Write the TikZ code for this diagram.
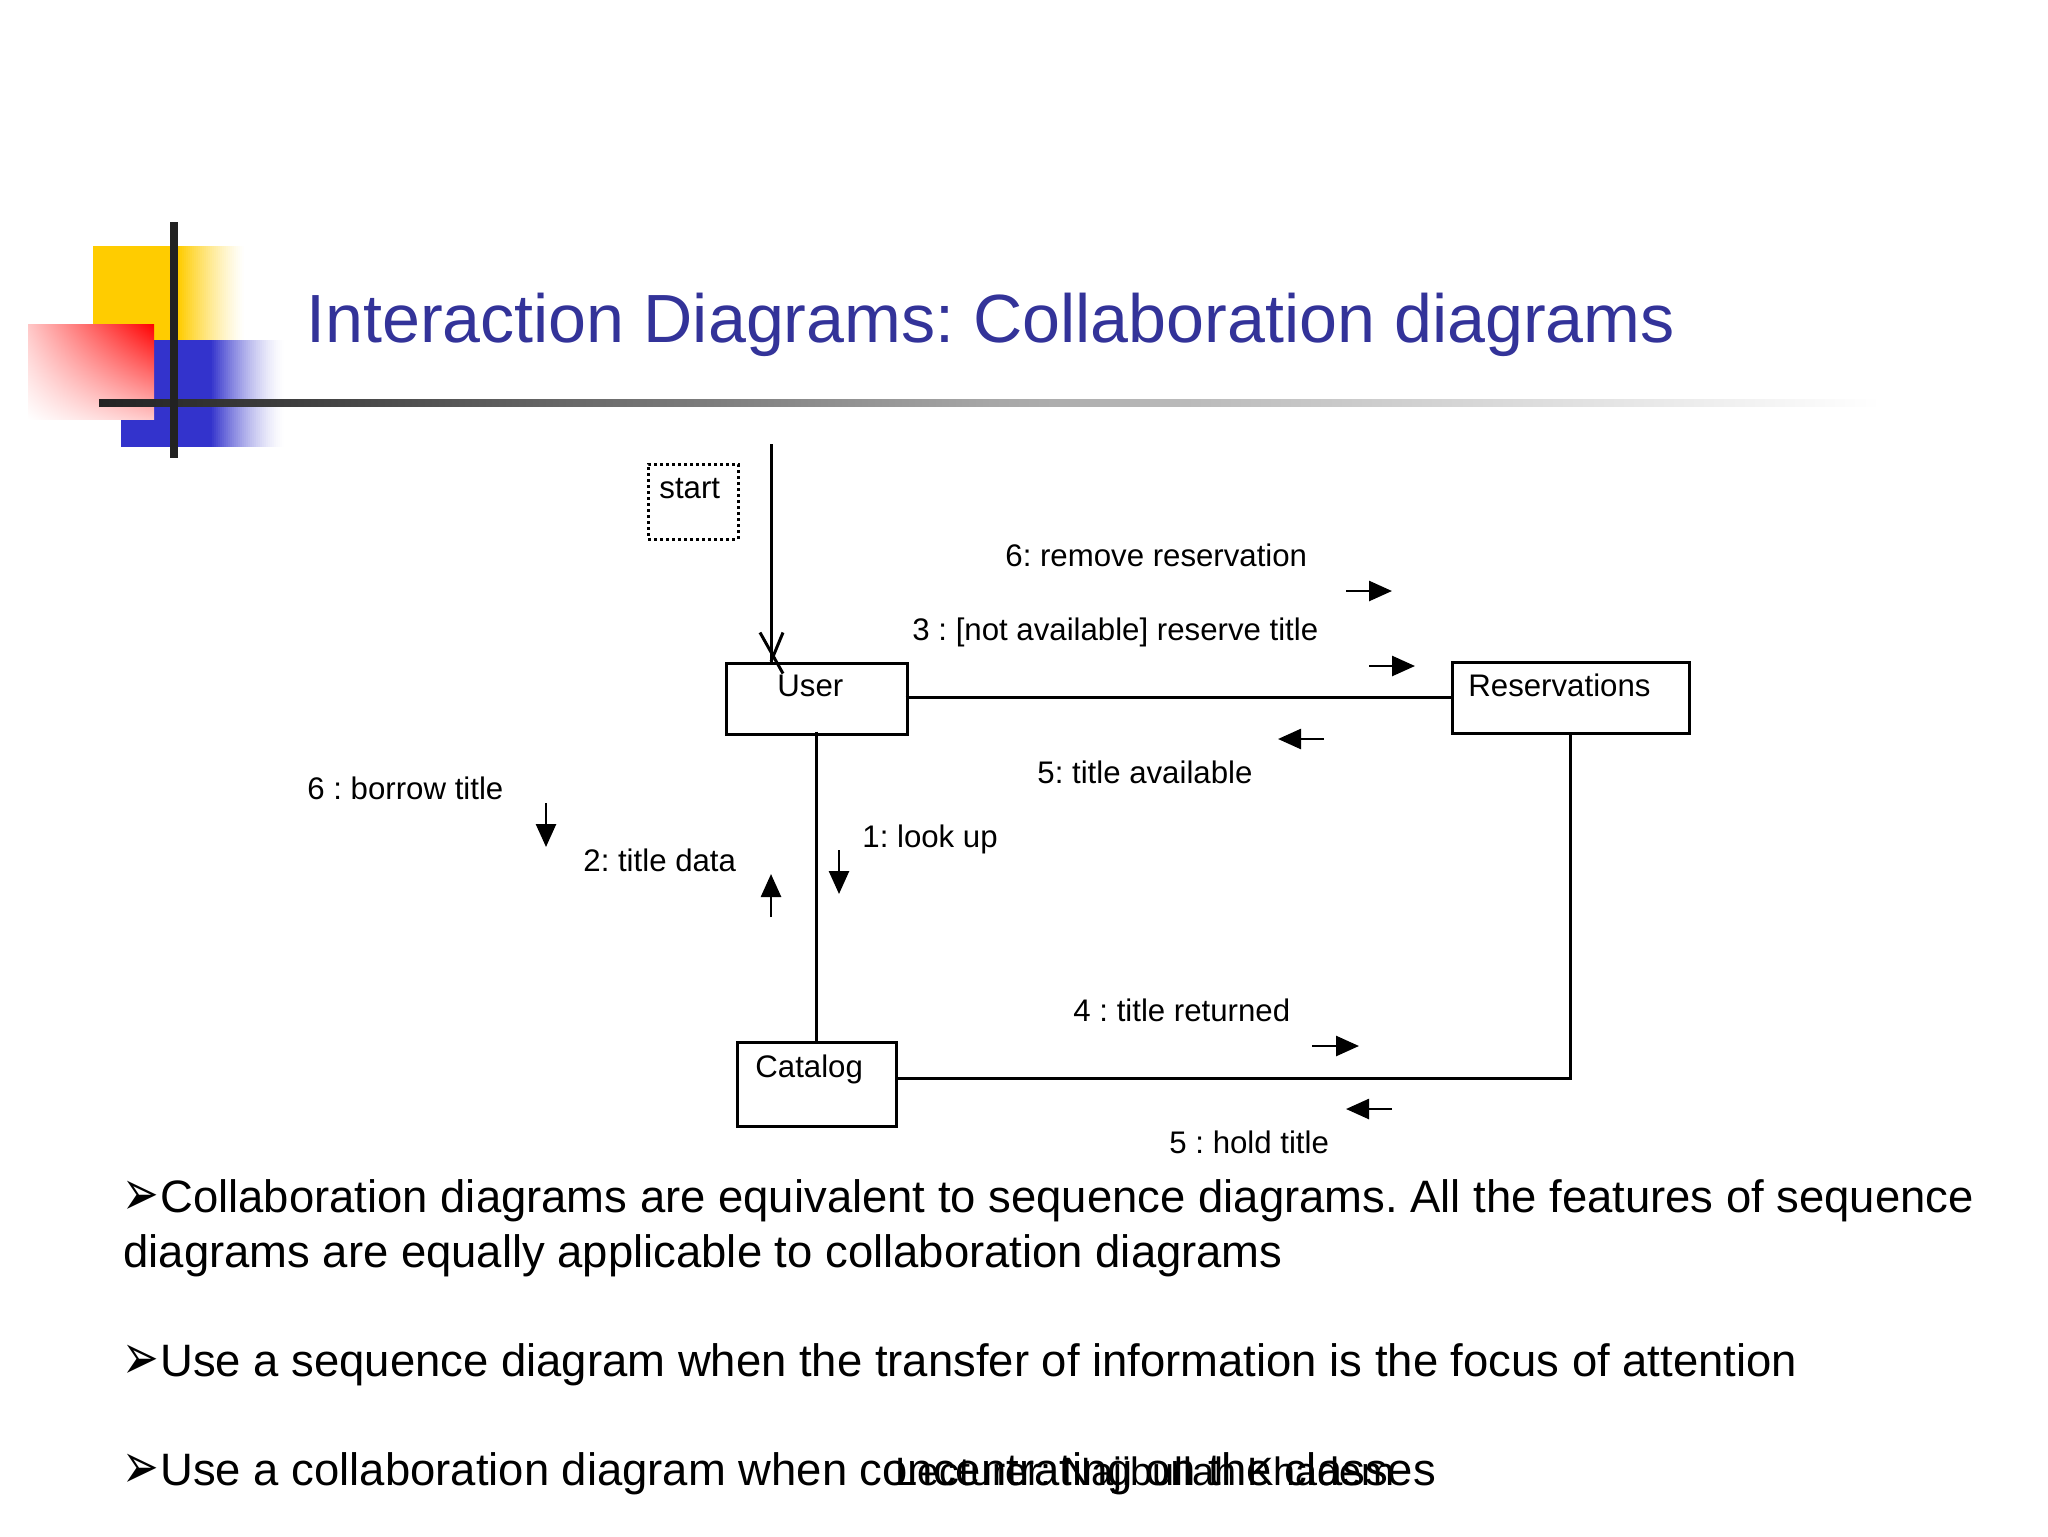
\documentclass[tikz,border=0pt]{standalone}
\usepackage{fontspec}
\usepackage{graphicx}
\setmainfont{Liberation Sans}
\newfontfamily\symfont{DejaVu Sans}
\frenchspacing
\usetikzlibrary{arrows.meta,calc,shadings}
\definecolor{titleblue}{HTML}{333399}
\definecolor{decoblue}{HTML}{3333CC}
\definecolor{decoyellow}{HTML}{FFCC00}
\definecolor{barblack}{HTML}{222222}
\tikzset{
  umlbox/.style={draw=black,line width=1.5pt,rectangle,inner sep=0pt},
  startbox/.style={draw=black,line width=1.5pt,dash pattern=on 1.5pt off 1.5pt,rectangle,inner sep=0pt,minimum width=45pt,minimum height=37.5pt},
  lab/.style={anchor=base west,inner sep=0pt,font=\fontsize{15.6pt}{18pt}\selectfont,text=black},
  body/.style={anchor=base west,inner sep=0pt,font=\fontsize{22.72pt}{27pt}\selectfont,text=black},
  foot/.style={anchor=base west,inner sep=0pt,font=\fontsize{19.8pt}{24pt}\selectfont,text=black},
  conn/.style={draw=black,line width=1.5pt},
  msg/.style={draw=black,line width=1.3pt,-{Triangle[length=11.5pt,width=10pt]}},
}
\newcommand{\bulletmark}{\raisebox{-1.5pt}{\scalebox{1.15}[1.7]{\symfont\fontsize{19pt}{22pt}\selectfont ➢}}}
\begin{document}
\begin{tikzpicture}[x=0.5pt,y=-0.5pt]
\useasboundingbox (0,0) rectangle (2048,1536);
% decoration
\fill[decoyellow] (93,246) rectangle (178,340);
\foreach \s in {0,1,...,33}{
  \pgfmathsetmacro{\p}{100*(1-\s/33)^1.3}
  \fill[decoyellow!\p!white] ({178+2*\s},246) rectangle ({181+2*\s},340);
}
\fill[decoblue] (121,340) rectangle (210,447);
\foreach \s in {0,1,...,37}{
  \pgfmathsetmacro{\p}{100*(1-\s/37)^1.5}
  \fill[decoblue!\p!white] ({210+2*\s},340) rectangle ({213+2*\s},447);
}
\shade[upper right=red,lower left=white,upper left=red!22!white,lower right=red!22!white] (28,324) rectangle (154,419);
\shade[left color=barblack,right color=white,middle color=barblack!40!white] (99,399) rectangle (1880,406);
\fill[barblack] (170,222) rectangle (178,458);
% title
\node[anchor=base west,inner sep=0pt,text=titleblue,font=\fontsize{34.1pt}{40pt}\selectfont] (title) at (306,342) {Interaction Diagrams: Collaboration diagrams};
% boxes
\node[umlbox,minimum width=90.5pt,minimum height=35.5pt] (user) at (816.5,698.5) {};
\node[umlbox,minimum width=118.5pt,minimum height=35.5pt] (res) at (1570.5,698) {};
\node[umlbox,minimum width=79.5pt,minimum height=42pt] (cat) at (816.5,1084) {};
\node[startbox] (start) at (693,501.5) {};
\node[lab] (userl) at (777,696) {User};
\node[lab] (resl) at (1468,696) {Reservations};
\node[lab] (catl) at (755,1077) {Catalog};
\node[lab] (startl) at (659,498) {start};
% connectors
\coordinate (top) at (771,444);
\coordinate (hit) at ($(user.north)+(-45.5,0)$);
\draw[conn] (top) -- (hit);
\draw[conn] ($(hit)+(-11,-29)$) -- ($(hit)+(12,12)$);
\draw[conn] ($(hit)+(12,-29)$) -- (hit);
\draw[conn] ($(user.east)+(-3,-1.5)$) -- ($(res.west)+(0,-1)$);
\draw[conn] ($(user.south)+(0,-4)$) -- (cat.north);
\coordinate (catout) at ($(cat.east)+(-2,-6)$);
\draw[conn] (catout) -- (catout -| res.south) -- ($(res.south)+(0,-3)$);
% messages
\node[lab] (m6r) at (1005,566) {6: remove reservation};
\coordinate (a1s) at (1346,591); \coordinate (a1e) at (1392,591);
\draw[msg] (a1s) -- (a1e);
\node[lab] (m3) at (912,640) {3 : [not available] reserve title};
\coordinate (a2s) at (1369,666); \coordinate (a2e) at (1415,666);
\draw[msg] (a2s) -- (a2e);
\node[lab] (m5a) at (1037,783) {5: title available};
\coordinate (a3s) at (1324,739); \coordinate (a3e) at (1278,739);
\draw[msg] (a3s) -- (a3e);
\node[lab] (m6b) at (307,799) {6 : borrow title};
\coordinate (a4s) at (546,803); \coordinate (a4e) at (546,847);
\draw[msg] (a4s) -- (a4e);
\node[lab] (m2) at (583,871) {2: title data};
\coordinate (a5s) at (771,917); \coordinate (a5e) at (771,874);
\draw[msg] (a5s) -- (a5e);
\node[lab] (m1) at (862,847) {1: look up};
\coordinate (a6s) at (839,850); \coordinate (a6e) at (839,894);
\draw[msg] (a6s) -- (a6e);
\node[lab] (m4) at (1073,1021) {4 : title returned};
\coordinate (a7s) at (1312,1046); \coordinate (a7e) at (1359,1046);
\draw[msg] (a7s) -- (a7e);
\node[lab] (m5h) at (1169,1153) {5 : hold title};
\coordinate (a8s) at (1392,1109); \coordinate (a8e) at (1346,1109);
\draw[msg] (a8s) -- (a8e);
% body
\node[body] (b1m) at (122,1212) {\bulletmark};
\node[body] (b1) at (160,1212) {Collaboration diagrams are equivalent to sequence diagrams. All the features of sequence};
\node[body] (b1b) at (123,1267) {diagrams are equally applicable to collaboration diagrams};
\node[body] (b2m) at (122,1376) {\bulletmark};
\node[body] (b2) at (160,1376) {Use a sequence diagram when the transfer of information is the focus of attention};
\node[body] (b3m) at (122,1485) {\bulletmark};
\node[body] (b3) at (160,1485) {Use a collaboration diagram when concentrating on the classes};
\node[foot] (footer) at (895,1485) {Lecturer: Najibullah Khadem};
\end{tikzpicture}
\end{document}
